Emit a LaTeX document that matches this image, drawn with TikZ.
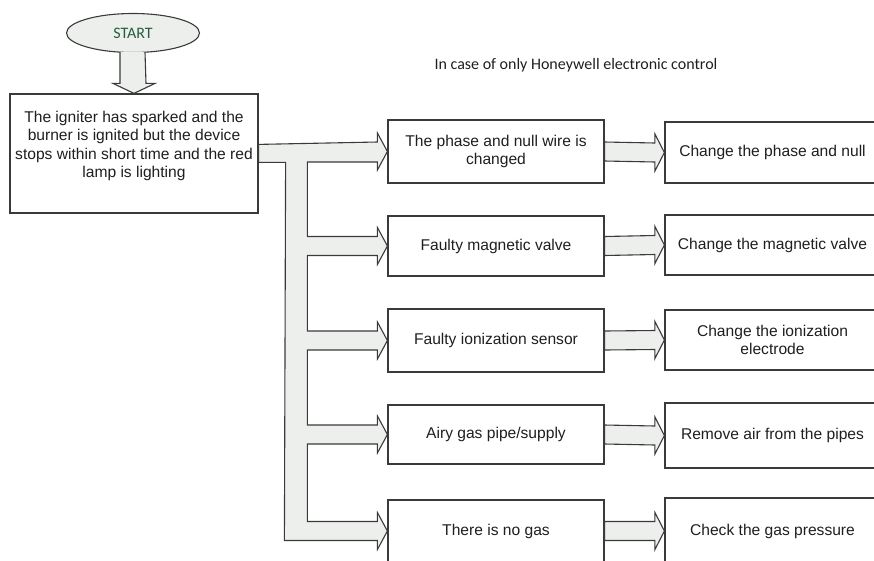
\documentclass[tikz,border=0pt]{standalone}
\usepackage{fontspec}
\setmainfont{Liberation Sans}
\newfontfamily\calfont{Carlito}
\usetikzlibrary{shapes.geometric,calc}
\definecolor{linec}{RGB}{58,58,58}
\definecolor{arrfill}{RGB}{237,239,237}
\definecolor{startgreen}{RGB}{38,94,58}
\tikzset{
  box/.style={draw=linec, line width=1.2pt, fill=white, align=center, inner sep=0pt,
    font=\fontsize{15.6}{18.3}\selectfont, text=black!88},
  midbox/.style={box, minimum width=216pt},
  rbox/.style={box, minimum width=215pt},
  fatarrow/.style={draw=linec, line width=1.1pt, fill=arrfill, line join=miter},
}
\newcommand\smallarrow[2]{%
  \draw[fatarrow] ($(#1.east)+(0,-9.5)$) -- ($(#2.west)+(-9.5,-9.5)$) -- ($(#2.west)+(-9.5,-18.5)$)
    -- (#2.west) -- ($(#2.west)+(-9.5,18.5)$) -- ($(#2.west)+(-9.5,9.5)$) -- ($(#1.east)+(0,9.5)$) -- cycle;}
\begin{document}
\begin{tikzpicture}[x=1pt,y=-1pt]
\useasboundingbox (0,0) rectangle (874,560);
% nodes
\node[draw=linec, line width=1.1pt, fill=arrfill, ellipse, minimum width=133pt, minimum height=39pt,
  inner sep=0pt, text=startgreen, font=\calfont\fontsize{16}{18}\selectfont] (start) at (133,33) {START};
\node[box, minimum width=248pt, minimum height=119pt] (main) at (134,153.5)
  {The igniter has sparked and the\\burner is ignited but the device\\stops within short time and the red\\lamp is lighting\\\mbox{}};
\node[font=\calfont\fontsize{16}{18}\selectfont, text=black!88] (note) at (576,65) {In case of only Honeywell electronic control};

\node[midbox, minimum height=63pt] (m1) at (496,151.5) {The phase and null wire is\\changed};
\node[midbox, minimum height=60pt] (m2) at (496,246) {Faulty magnetic valve};
\node[midbox, minimum height=63pt] (m3) at (496,340.5) {Faulty ionization sensor};
\node[midbox, minimum height=59pt] (m4) at (496,434.5) {Airy gas pipe/supply};
\node[midbox, minimum height=62pt] (m5) at (496,531) {There is no gas};

\node[rbox, minimum height=61pt] (r1) at (772.5,152.5) {Change the phase and null};
\node[rbox, minimum height=60pt] (r2) at (772.5,245) {Change the magnetic valve};
\node[rbox, minimum height=60pt] (r3) at (772.5,340) {Change the ionization\\electrode};
\node[rbox, minimum height=65pt] (r4) at (772.5,435.5) {Remove air from the pipes};
\node[rbox, minimum height=66pt] (r5) at (772.5,531) {Check the gas pressure};

% start arrow
\draw[fatarrow] ($(start.south)+(-13,-1)$) -- ($(main.north)+(-14,-10)$) -- ($(main.north)+(-21,-10)$)
  -- (main.north) -- ($(main.north)+(21,-10)$) -- ($(main.north)+(12,-10)$) -- ($(start.south)+(12,-1)$);

% big branching arrow
\draw[fatarrow] ($(main.north east)+(0,51)$) -- ($(m1.west)+(-10,-9.5)$) -- ($(m1.west)+(-10,-18.5)$)
  -- (m1.west) -- ($(m1.west)+(-10,18.5)$) -- ($(m1.west)+(-10,10.5)$) -- ($(m1.west)+(-80,10.5)$)
  \foreach \i in {2,3,4} {
    -- ($(m\i.west)+(-80,-9.5)$) -- ($(m\i.west)+(-10,-9.5)$) -- ($(m\i.west)+(-10,-18.5)$)
    -- (m\i.west) -- ($(m\i.west)+(-10,18.5)$) -- ($(m\i.west)+(-10,9.5)$) -- ($(m\i.west)+(-80,9.5)$)
  }
  -- ($(m5.west)+(-80,-9.5)$) -- ($(m5.west)+(-10,-9.5)$) -- ($(m5.west)+(-10,-18.5)$)
  -- (m5.west) -- ($(m5.west)+(-10,18.5)$) -- ($(m5.west)+(-10,9.5)$) -- ($(m5.west)+(-103,9.5)$)
  -- ($(main.north east)+(27,69)$) -- ($(main.north east)+(0,69)$) -- cycle;

% small arrows
\smallarrow{m1}{r1}
\smallarrow{m2}{r2}
\smallarrow{m3}{r3}
\smallarrow{m4}{r4}
\smallarrow{m5}{r5}
\end{tikzpicture}
\end{document}
